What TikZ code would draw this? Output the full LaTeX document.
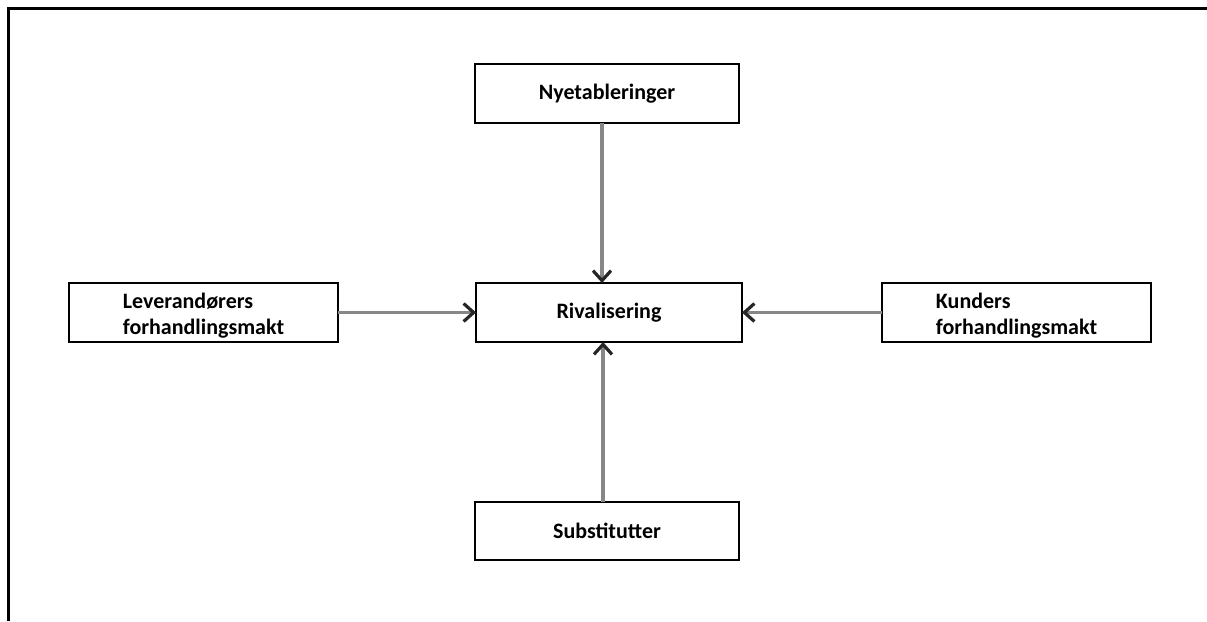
\documentclass[tikz,border=0pt]{standalone}
\usepackage{fontspec}
\setmainfont{Carlito}
\usetikzlibrary{arrows.meta}
\begin{document}
\begin{tikzpicture}[x=1pt,y=-1pt,
  box/.style={draw=black, line width=1.3pt, fill=white,
    font=\bfseries\fontsize{22}{25.5}\selectfont, align=left,
    inner sep=0pt, outer sep=0pt},
  push/.style={draw={rgb,255:red,135;green,135;blue,135}, line width=3.2pt,
    -{Straight Barb[length=10pt,width=18pt,line width=3.2pt,color=black!85]}}
]
\useasboundingbox (0,0) rectangle (1207,621);

% open frame: top and left edges only
\draw[line width=3pt] (1207,8.5) -- (8.5,8.5) -- (8.5,621);

% the five forces
\node[box, minimum width=264pt, minimum height=59pt] (ny)  at (607,93.5)    {Nyetableringer};
\node[box, minimum width=266pt, minimum height=59pt] (riv) at (609,312.5)   {Rivalisering};
\node[box, minimum width=264pt, minimum height=58pt] (sub) at (607,531)     {Substitutter};
\node[box, minimum width=269pt, minimum height=59pt] (lev) at (203.5,312.5) {\rule{0pt}{21.5pt}Leverandørers\\forhandlingsmakt};
\node[box, minimum width=269pt, minimum height=59pt] (kun) at (1016.5,312.5){\rule{0pt}{21.5pt}Kunders\\forhandlingsmakt};

% vertical arrow axes
\coordinate (vx1) at (602,0);
\coordinate (vx2) at (603,0);

\draw[push] (ny.south -| vx1) -- (riv.north -| vx1);
\draw[push] (sub.north -| vx2) -- (riv.south -| vx2);
\draw[push] (lev.east) -- (riv.west);
\draw[push] (kun.west) -- (riv.east);
\end{tikzpicture}
\end{document}
